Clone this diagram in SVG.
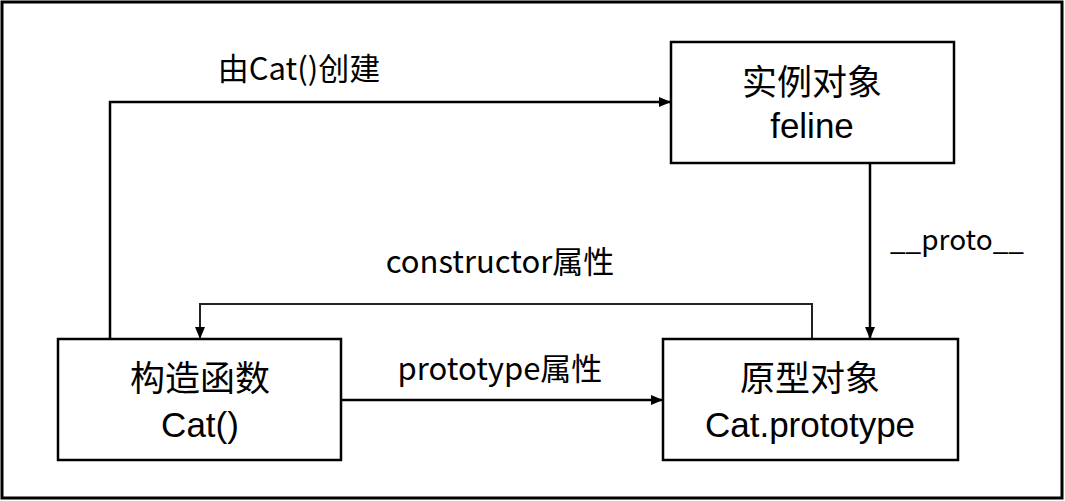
<svg xmlns="http://www.w3.org/2000/svg" width="1065" height="501" viewBox="0 0 1065 501">
<defs>
<style>
.box{fill:#fff;stroke:#000;stroke-width:2.5}
.t{font-family:"Noto Sans CJK SC","Noto Sans",sans-serif;fill:#000;text-anchor:middle}
.lat{font-family:"Liberation Sans",Arial,sans-serif;fill:#000;text-anchor:middle;font-size:35px}
.n{font-size:35px}
.l{font-size:31px}
.c{fill:none;stroke:#000;stroke-width:2.5}
</style>
<marker id="ah" viewBox="0 0 12 10" refX="12" refY="5" markerWidth="12" markerHeight="10" markerUnits="userSpaceOnUse" orient="auto">
<path d="M0,0 L12,5 L0,10 Z" fill="#000"/>
</marker>
</defs>
<rect x="0" y="0" width="1065" height="501" fill="#fff"/>
<rect x="2" y="2" width="1060" height="496" fill="none" stroke="#000" stroke-width="3"/>
<g id="connectors">
<path class="c" d="M110,339 V102 H671" marker-end="url(#ah)"/>
<path class="c" d="M870,163 V339" marker-end="url(#ah)"/>
<path class="c" d="M812,339 V304 H200 V339" marker-end="url(#ah)" style="stroke:#222;stroke-width:2"/>
<path class="c" d="M341,400 H663" marker-end="url(#ah)"/>
<text class="t l" x="299" y="80">由Cat()创建</text>
<text class="t" x="957" y="250" font-size="28">__proto__</text>
<text class="t l" x="500" y="273">constructor属性</text>
<text class="t l" x="500" y="380">prototype属性</text>
</g>
<g id="instance">
<rect class="box" x="671" y="42" width="283" height="121"/>
<text class="t n" x="812" y="95">实例对象</text>
<text class="lat" x="812" y="138">feline</text>
</g>
<g id="constructor">
<rect class="box" x="58" y="339" width="283" height="121"/>
<text class="t n" x="200" y="391">构造函数</text>
<text class="lat" x="200" y="437">Cat()</text>
</g>
<g id="prototype">
<rect class="box" x="663" y="339" width="295" height="121"/>
<text class="t n" x="810" y="391">原型对象</text>
<text class="lat" x="810" y="437">Cat.prototype</text>
</g>
</svg>
